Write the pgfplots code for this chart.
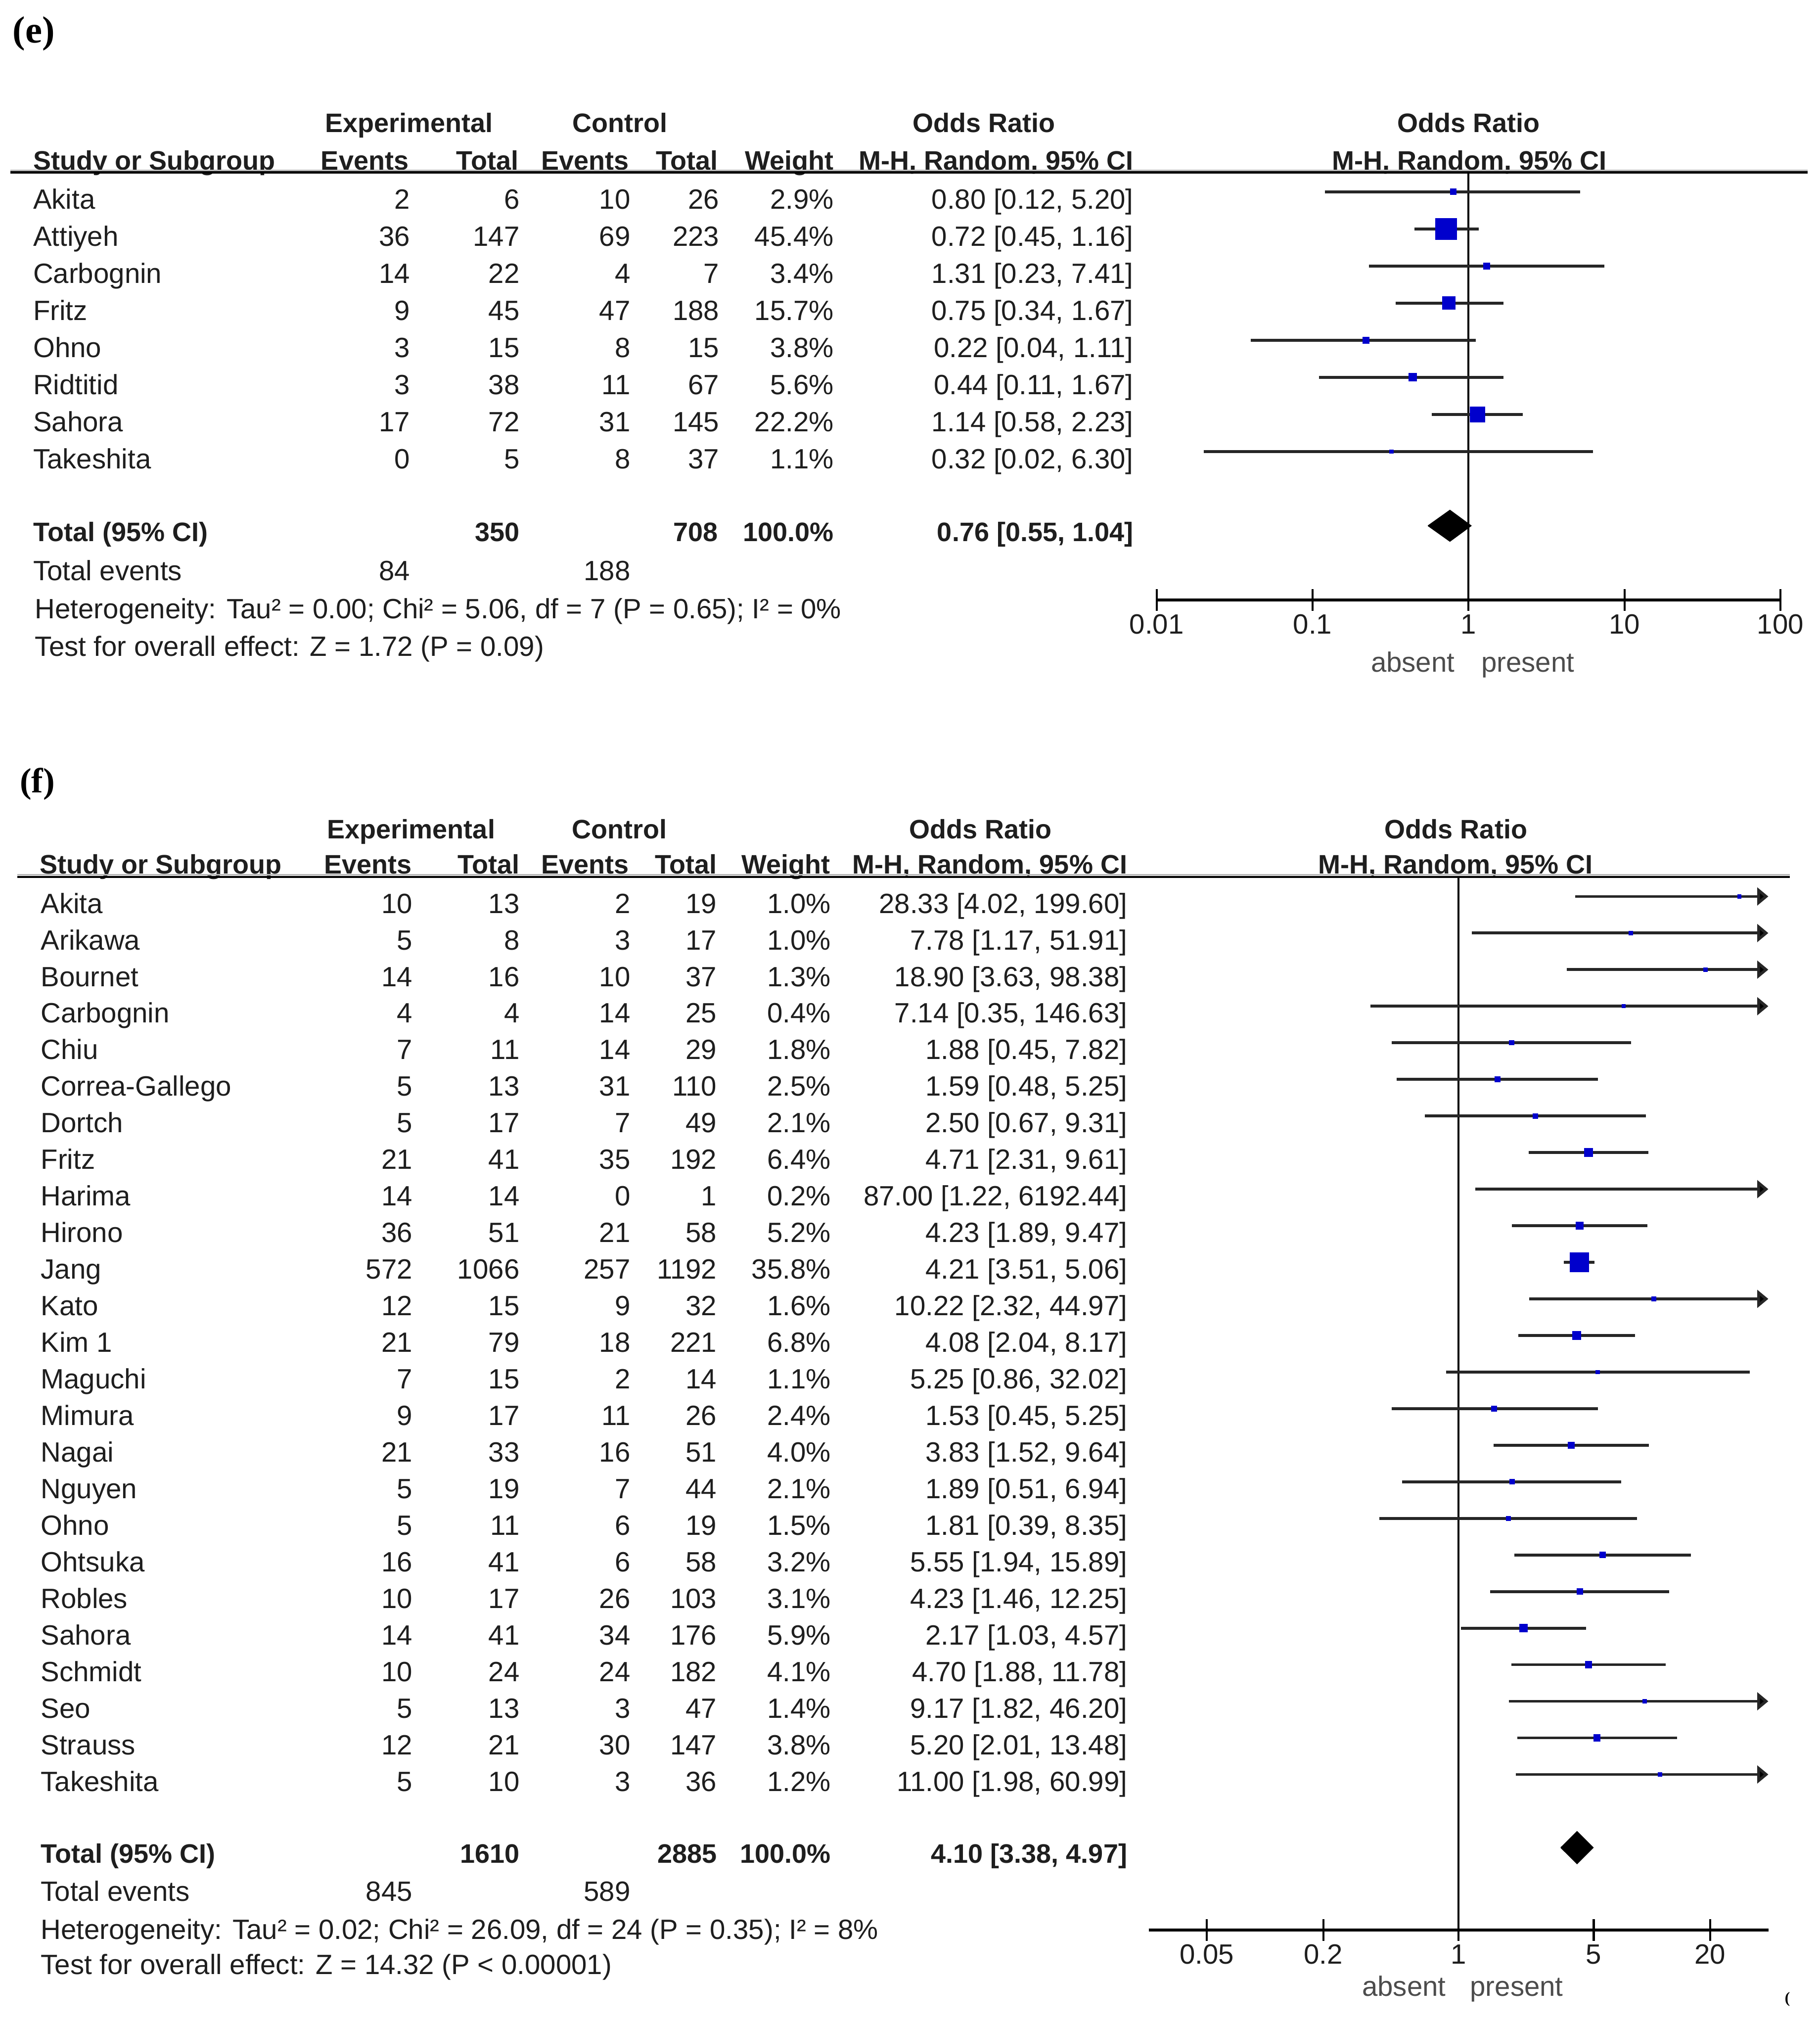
\documentclass[border=0pt]{standalone}
\usepackage{fontspec}
\setmainfont{Liberation Sans}
\newfontfamily\labelfont{Liberation Serif}
\usepackage{pgfplots}
\usepackage{pgfplotstable}
\pgfplotsset{compat=1.18}
\usetikzlibrary{arrows.meta}

\definecolor{sqblue}{RGB}{0,0,204}
\definecolor{txt}{RGB}{30,30,30}

% study estimates: row index (0 = first study), odds ratio, weight in %
\pgfplotstableread{
row or w
0 0.80 2.9
1 0.72 45.4
2 1.31 3.4
3 0.75 15.7
4 0.22 3.8
5 0.44 5.6
6 1.14 22.2
7 0.32 1.1
}\studiesE

\pgfplotstableread{
row or w
0 28.33 1.0
1 7.78 1.0
2 18.90 1.3
3 7.14 0.4
4 1.88 1.8
5 1.59 2.5
6 2.50 2.1
7 4.71 6.4
8 87.00 0.2
9 4.23 5.2
10 4.21 35.8
11 10.22 1.6
12 4.08 6.8
13 5.25 1.1
14 1.53 2.4
15 3.83 4.0
16 1.89 2.1
17 1.81 1.5
18 5.55 3.2
19 4.23 3.1
20 2.17 5.9
21 4.70 4.1
22 9.17 1.4
23 5.20 3.8
24 11.00 1.2
}\studiesF

\newcommand\fs{\fontsize{10.75}{12}\selectfont}
\newcommand\fsb{\fontsize{10.3}{12}\selectfont\bfseries}
\tikzset{
  t/.style={inner sep=0pt, outer sep=0pt, text=txt, font=\fs},
  tl/.style={t, anchor=base west},
  tr/.style={t, anchor=base east},
  tc/.style={t, anchor=base},
  b/.style={font=\fsb},
  ci/.style={black!85, line width=1.1pt},
  arr/.style={ci, -{Triangle[length=4.3pt, width=6.8pt, fill=black]}},
}

% one table row: index, name, exp events, exp total, ctrl events, ctrl total, weight, OR text
\newcommand\srow[8]{%
  \pgfmathsetmacro\yy{\rb+\rp*#1}
  \node[tl] at (\cA,\yy) {#2};
  \node[tr] at (\cB,\yy) {#3};
  \node[tr] at (\cC,\yy) {#4};
  \node[tr] at (\cD,\yy) {#5};
  \node[tr] at (\cE,\yy) {#6};
  \node[tr] at (\cF,\yy) {#7\%};
  \node[tr] at (\cG,\yy) {#8};
}

\begin{document}
\begin{tikzpicture}
\begin{scope}[x=0.5pt, y=-0.5pt]
\useasboundingbox (0,0) rectangle (1403,1561);

% ---------------- panel (e) ----------------
\node[anchor=base west, inner sep=0pt, font=\labelfont\bfseries\fontsize{14.6}{16}\selectfont] at (9.5,32.8) {(e)};
\node[tc,b] at (315.3,101.9) {Experimental};
\node[tc,b] at (478,101.9) {Control};
\node[tc,b] at (758.6,101.9) {Odds Ratio};
\node[tc,b] at (1132.3,101.9) {Odds Ratio};
\node[tl,b] at (25.6,130.8) {Study or Subgroup};
\node[tr,b] at (315,130.8) {Events};
\node[tr,b] at (399.6,130.8) {Total};
\node[tr,b] at (485,130.8) {Events};
\node[tr,b] at (553.5,130.8) {Total};
\node[tr,b] at (642.7,130.8) {Weight};
\node[tr,b] at (873.7,130.8) {M-H, Random, 95\% CI};
\node[tc,b] at (1132.7,130.8) {M-H, Random, 95\% CI};
\draw[gray!55, line width=0.6pt] (8,131.2) -- (1393.6,131.2);
\draw[black, line width=0.9pt] (8,132.8) -- (1393.6,132.8);

\def\rb{161.1}\def\rp{28.6}
\def\cA{25.6}\def\cB{316}\def\cC{400.5}\def\cD{486}\def\cE{554.5}\def\cF{642.7}\def\cG{873.7}
\srow{0}{Akita}{2}{6}{10}{26}{2.9}{0.80 [0.12, 5.20]}
\srow{1}{Attiyeh}{36}{147}{69}{223}{45.4}{0.72 [0.45, 1.16]}
\srow{2}{Carbognin}{14}{22}{4}{7}{3.4}{1.31 [0.23, 7.41]}
\srow{3}{Fritz}{9}{45}{47}{188}{15.7}{0.75 [0.34, 1.67]}
\srow{4}{Ohno}{3}{15}{8}{15}{3.8}{0.22 [0.04, 1.11]}
\srow{5}{Ridtitid}{3}{38}{11}{67}{5.6}{0.44 [0.11, 1.67]}
\srow{6}{Sahora}{17}{72}{31}{145}{22.2}{1.14 [0.58, 2.23]}
\srow{7}{Takeshita}{0}{5}{8}{37}{1.1}{0.32 [0.02, 6.30]}

\node[tl,b] at (25.6,417.3) {Total (95\% CI)};
\node[tr,b] at (400.5,417.3) {350};
\node[tr,b] at (553.5,417.3) {708};
\node[tr,b] at (642.7,417.3) {100.0\%};
\node[tr,b] at (873.7,417.3) {0.76 [0.55, 1.04]};
\node[tl] at (25.6,447.3) {Total events};
\node[tr] at (316,447.3) {84};
\node[tr] at (486,447.3) {188};
\node[tl] at (27,476.8) {Heterogeneity: Tau² = 0.00; Chi² = 5.06, df = 7 (P = 0.65); I² = 0\%};
\node[tl] at (27,505.9) {Test for overall effect: Z = 1.72 (P = 0.09)};
\node[t, anchor=base east, text=black!70] at (1121.5,517.8) {absent};
\node[t, anchor=base west, text=black!70] at (1142,517.8) {present};

% ---------------- panel (f) ----------------
\node[anchor=base west, inner sep=0pt, font=\labelfont\bfseries\fontsize{13.5}{15}\selectfont] at (15,611) {(f)};
\node[tc,b] at (317,646.3) {Experimental};
\node[tc,b] at (477.5,646.3) {Control};
\node[tc,b] at (756,646.3) {Odds Ratio};
\node[tc,b] at (1122.5,646.3) {Odds Ratio};
\node[tl,b] at (30.6,673.4) {Study or Subgroup};
\node[tr,b] at (317.3,673.4) {Events};
\node[tr,b] at (400.5,673.4) {Total};
\node[tr,b] at (485,673.4) {Events};
\node[tr,b] at (552.6,673.4) {Total};
\node[tr,b] at (640,673.4) {Weight};
\node[tr,b] at (869,673.4) {M-H, Random, 95\% CI};
\node[tc,b] at (1122,673.4) {M-H, Random, 95\% CI};
\draw[gray!55, line width=0.6pt] (13.5,674.4) -- (1380,674.4);
\draw[black, line width=0.9pt] (13.5,676) -- (1380,676);

\def\rb{703.9}\def\rp{28.2}
\def\cA{31.5}\def\cB{318}\def\cC{400.5}\def\cD{486}\def\cE{552.6}\def\cF{640.4}\def\cG{869}
\srow{0}{Akita}{10}{13}{2}{19}{1.0}{28.33 [4.02, 199.60]}
\srow{1}{Arikawa}{5}{8}{3}{17}{1.0}{7.78 [1.17, 51.91]}
\srow{2}{Bournet}{14}{16}{10}{37}{1.3}{18.90 [3.63, 98.38]}
\srow{3}{Carbognin}{4}{4}{14}{25}{0.4}{7.14 [0.35, 146.63]}
\srow{4}{Chiu}{7}{11}{14}{29}{1.8}{1.88 [0.45, 7.82]}
\srow{5}{Correa-Gallego}{5}{13}{31}{110}{2.5}{1.59 [0.48, 5.25]}
\srow{6}{Dortch}{5}{17}{7}{49}{2.1}{2.50 [0.67, 9.31]}
\srow{7}{Fritz}{21}{41}{35}{192}{6.4}{4.71 [2.31, 9.61]}
\srow{8}{Harima}{14}{14}{0}{1}{0.2}{87.00 [1.22, 6192.44]}
\srow{9}{Hirono}{36}{51}{21}{58}{5.2}{4.23 [1.89, 9.47]}
\srow{10}{Jang}{572}{1066}{257}{1192}{35.8}{4.21 [3.51, 5.06]}
\srow{11}{Kato}{12}{15}{9}{32}{1.6}{10.22 [2.32, 44.97]}
\srow{12}{Kim 1}{21}{79}{18}{221}{6.8}{4.08 [2.04, 8.17]}
\srow{13}{Maguchi}{7}{15}{2}{14}{1.1}{5.25 [0.86, 32.02]}
\srow{14}{Mimura}{9}{17}{11}{26}{2.4}{1.53 [0.45, 5.25]}
\srow{15}{Nagai}{21}{33}{16}{51}{4.0}{3.83 [1.52, 9.64]}
\srow{16}{Nguyen}{5}{19}{7}{44}{2.1}{1.89 [0.51, 6.94]}
\srow{17}{Ohno}{5}{11}{6}{19}{1.5}{1.81 [0.39, 8.35]}
\srow{18}{Ohtsuka}{16}{41}{6}{58}{3.2}{5.55 [1.94, 15.89]}
\srow{19}{Robles}{10}{17}{26}{103}{3.1}{4.23 [1.46, 12.25]}
\srow{20}{Sahora}{14}{41}{34}{176}{5.9}{2.17 [1.03, 4.57]}
\srow{21}{Schmidt}{10}{24}{24}{182}{4.1}{4.70 [1.88, 11.78]}
\srow{22}{Seo}{5}{13}{3}{47}{1.4}{9.17 [1.82, 46.20]}
\srow{23}{Strauss}{12}{21}{30}{147}{3.8}{5.20 [2.01, 13.48]}
\srow{24}{Takeshita}{5}{10}{3}{36}{1.2}{11.00 [1.98, 60.99]}

\node[tl,b] at (31.5,1436.1) {Total (95\% CI)};
\node[tr,b] at (400.5,1436.1) {1610};
\node[tr,b] at (552.6,1436.1) {2885};
\node[tr,b] at (640.4,1436.1) {100.0\%};
\node[tr,b] at (869,1436.1) {4.10 [3.38, 4.97]};
\node[tl] at (31.5,1465.4) {Total events};
\node[tr] at (318,1465.4) {845};
\node[tr] at (486,1465.4) {589};
\node[tl] at (31.5,1495) {Heterogeneity: Tau² = 0.02; Chi² = 26.09, df = 24 (P = 0.35); I² = 8\%};
\node[tl] at (31.5,1521.9) {Test for overall effect: Z = 14.32 (P < 0.00001)};
\node[t, anchor=base east, text=black!70] at (1114.7,1538.5) {absent};
\node[t, anchor=base west, text=black!70] at (1133.4,1538.5) {present};
\node[inner sep=0pt, font=\labelfont\bfseries\fontsize{6}{7}\selectfont] at (1378,1541) {(};
\end{scope}

% ---------------- forest plot (e) ----------------
\begin{axis}[at={(445.85pt,-231.25pt)}, anchor=south west,
  scale only axis, width=240.45pt, height=164.9pt,
  xmode=log, xmin=0.01, xmax=100, ymin=-11, ymax=0.53,
  clip marker paths=true,
  axis x line*=bottom, axis y line=none,
  x axis line style={line width=1.1pt, black},
  tick align=center, major tick length=8.3pt,
  xtick style={line width=0.8pt, black},
  xminorticks=false, ytick=\empty,
  xtick={0.01,0.1,1,10,100}, xticklabels={0.01,0.1,1,10,100},
  xticklabel style={font=\fs, text=txt, anchor=base, inner sep=0pt, yshift=-9pt}]
\addplot[black, line width=0.8pt] coordinates {(1,0.53) (1,-11)};
\addplot[ci, unbounded coords=jump] coordinates {
  (0.12,0) (5.20,0) (nan,nan)
  (0.45,-1) (1.16,-1) (nan,nan)
  (0.23,-2) (7.41,-2) (nan,nan)
  (0.34,-3) (1.67,-3) (nan,nan)
  (0.04,-4) (1.11,-4) (nan,nan)
  (0.11,-5) (1.67,-5) (nan,nan)
  (0.58,-6) (2.23,-6) (nan,nan)
  (0.02,-7) (6.30,-7)
};
\addplot[scatter, only marks, mark=square*,
  scatter/use mapped color={draw=sqblue, fill=sqblue},
  visualization depends on={max(0.6,4*sqrt(\thisrow{w}/45.4)) \as \msz},
  scatter/@pre marker code/.append style={/tikz/mark size=\msz}]
  table[x=or, y expr=-\thisrow{row}] {\studiesE};
\addplot[fill=black, draw=black, line width=0.3pt] coordinates {
  (0.55,-9) (0.76,-8.58) (1.04,-9) (0.76,-9.42) (0.55,-9)};
\end{axis}

% ---------------- forest plot (f) ----------------
\begin{axis}[at={(442.8pt,-743.85pt)}, anchor=south west,
  scale only axis, width=238.85pt, height=405.8pt,
  xmode=log, xmin=0.025, xmax=40, ymin=-28.25, ymax=0.53,
  clip marker paths=true,
  axis x line*=bottom, axis y line=none,
  x axis line style={line width=1.1pt, black},
  tick align=center, major tick length=8.3pt,
  xtick style={line width=0.8pt, black},
  xminorticks=false, ytick=\empty,
  xtick={0.05,0.2,1,5,20}, xticklabels={0.05,0.2,1,5,20},
  xticklabel style={font=\fs, text=txt, anchor=base, inner sep=0pt, yshift=-9pt}]
\addplot[black, line width=0.8pt] coordinates {(1,0.53) (1,-28.25)};
\addplot[ci, unbounded coords=jump] coordinates {
  (0.45,-4) (7.82,-4) (nan,nan)
  (0.48,-5) (5.25,-5) (nan,nan)
  (0.67,-6) (9.31,-6) (nan,nan)
  (2.31,-7) (9.61,-7) (nan,nan)
  (1.89,-9) (9.47,-9) (nan,nan)
  (3.51,-10) (5.06,-10) (nan,nan)
  (2.04,-12) (8.17,-12) (nan,nan)
  (0.86,-13) (32.02,-13) (nan,nan)
  (0.45,-14) (5.25,-14) (nan,nan)
  (1.52,-15) (9.64,-15) (nan,nan)
  (0.51,-16) (6.94,-16) (nan,nan)
  (0.39,-17) (8.35,-17) (nan,nan)
  (1.94,-18) (15.89,-18) (nan,nan)
  (1.46,-19) (12.25,-19) (nan,nan)
  (1.03,-20) (4.57,-20) (nan,nan)
  (1.88,-21) (11.78,-21) (nan,nan)
  (2.01,-23) (13.48,-23)
};
% upper limits beyond the axis end (199.60, 51.91, 98.38, 146.63, 6192.44, 44.97, 46.20, 60.99) end in an arrow at 40
\addplot[arr] coordinates {(4.02,0) (40,0)};
\addplot[arr] coordinates {(1.17,-1) (40,-1)};
\addplot[arr] coordinates {(3.63,-2) (40,-2)};
\addplot[arr] coordinates {(0.35,-3) (40,-3)};
\addplot[arr] coordinates {(1.22,-8) (40,-8)};
\addplot[arr] coordinates {(2.32,-11) (40,-11)};
\addplot[arr] coordinates {(1.82,-22) (40,-22)};
\addplot[arr] coordinates {(1.98,-24) (40,-24)};
\addplot[scatter, only marks, mark=square*,
  scatter/use mapped color={draw=sqblue, fill=sqblue},
  visualization depends on={max(0.6,4*sqrt(\thisrow{w}/45.4)) \as \msz},
  scatter/@pre marker code/.append style={/tikz/mark size=\msz}]
  table[x=or, y expr=-\thisrow{row}] {\studiesF};
\addplot[fill=black, draw=black, line width=0.3pt] coordinates {
  (3.38,-26) (4.10,-25.56) (4.97,-26) (4.10,-26.44) (3.38,-26)};
\end{axis}
\end{tikzpicture}
\end{document}
